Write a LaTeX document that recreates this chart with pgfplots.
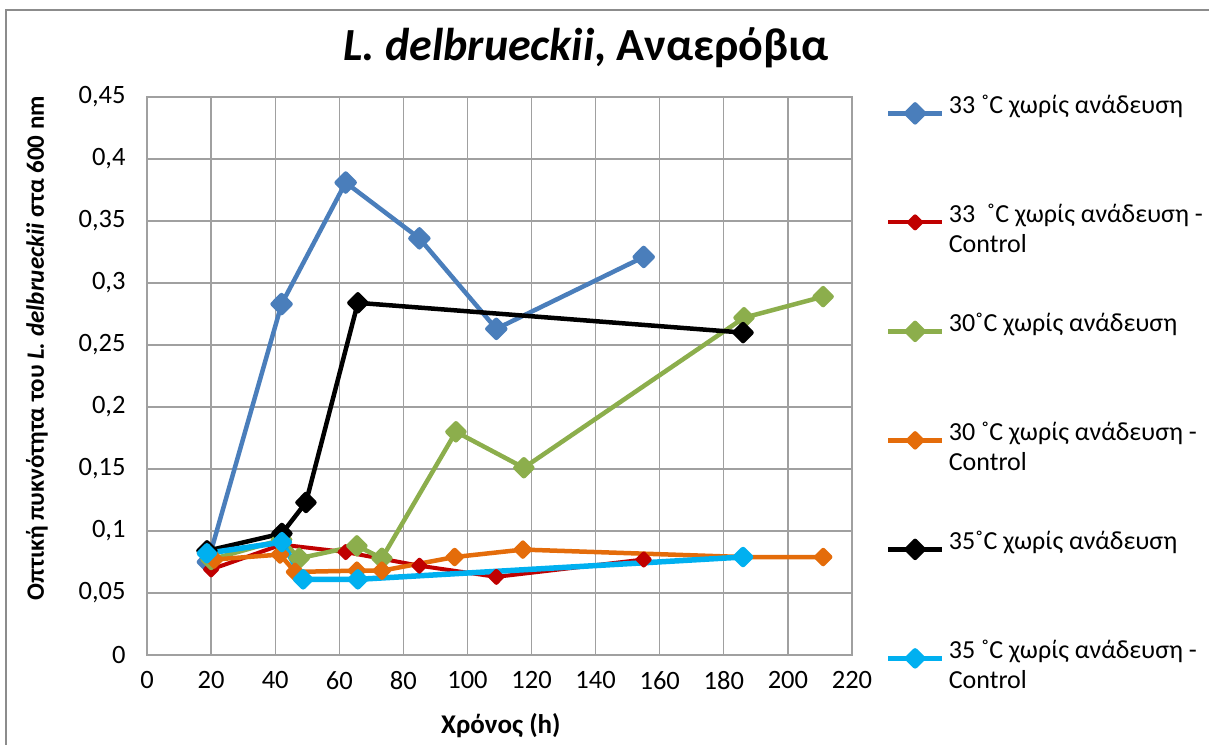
\documentclass[border=0pt]{standalone}
\usepackage{fontspec}
\setmainfont{Carlito}
\usepackage{pgfplots}
\pgfplotsset{compat=1.18}
\definecolor{cblue}{HTML}{4A7EBB}
\definecolor{cred}{HTML}{C00000}
\definecolor{cgreen}{HTML}{8CAE4C}
\definecolor{corange}{HTML}{E46C0A}
\definecolor{ccyan}{HTML}{00B0F0}
\definecolor{cgrid}{HTML}{A0A0A0}
\definecolor{cborder}{HTML}{8C8C8C}
\newcommand{\legtxt}[1]{\parbox[t][109bp][t]{300bp}{#1}}
\begin{document}
\begin{tikzpicture}[x=1bp,y=1bp]
\useasboundingbox (0,0) rectangle (1209,745);
\draw[cborder, line width=2.5bp] (6,0) -- (6,735) -- (1209,735);
\begin{axis}[
  at={(147bp,90bp)}, anchor=south west,
  scale only axis, width=705bp, height=558bp,
  xmin=0, xmax=220, ymin=0, ymax=0.45,
  xtick={0,20,...,220},
  ytick={0,0.05,0.1,0.15,0.2,0.25,0.3,0.35,0.4,0.45},
  scaled y ticks=false,
  /pgf/number format/.cd, use comma, fixed, 1000 sep={}, assume math mode=true,
  /pgfplots/.cd,
  ticklabel style={font=\fontsize{26.5bp}{30bp}\selectfont},
  yticklabel style={xshift=-18bp},
  xticklabel style={yshift=-13bp},
  grid=major,
  major grid style={cgrid, line width=1.3bp},
  axis line style={cgrid, line width=1.3bp},
  major tick length=0bp,
  tick pos=left,
  title={\textbf{\textit{L. delbrueckii}, Αναερόβια}},
  title style={font=\fontsize{46bp}{52bp}\selectfont, at={(rel axis cs:0.623,1.078)}, anchor=center},
  xlabel={\textbf{Χρόνος (h)}},
  every axis x label/.style={at={(rel axis cs:0.502,-0.127)}, anchor=center, font=\fontsize{27bp}{32bp}\selectfont},
  ylabel={\textbf{Οπτική πυκνότητα του \textit{L. delbrueckii} στα 600 nm}},
  every axis y label/.style={at={(rel axis cs:-0.156,0.55)}, rotate=90, anchor=center, font=\fontsize{25bp}{30bp}\selectfont},
  legend cell align=left,
  legend style={at={(rel axis cs:1.047,1.004)}, anchor=north west, draw=none, fill=none,
    font=\fontsize{26bp}{30bp}\selectfont, row sep=0bp, inner sep=0pt,
    nodes={inner sep=0pt, anchor=base west, text depth=}, column sep=4bp},
  legend image code/.code={\draw[mark repeat=2,mark phase=2] plot coordinates {(0bp,0bp) (27bp,0bp) (54bp,0bp)};},
  every axis plot/.append style={mark=diamond*, line join=round},
]
\addplot[cblue, line width=4.5bp, mark size=9bp, mark options={xscale=1.33}]
 coordinates {(19,0.075) (42,0.283) (62,0.381) (85,0.336) (109,0.263) (155,0.321)};
\addlegendentry{\legtxt{33 ˚C χωρίς ανάδευση}}
\addplot[cred, line width=4bp, mark size=6bp, mark options={xscale=1.33}]
 coordinates {(20,0.069) (42,0.089) (62,0.083) (85,0.072) (109,0.063) (155,0.077)};
\addlegendentry{\legtxt{33 \ ˚C χωρίς ανάδευση -\\Control}}
\addplot[cgreen, line width=4.5bp, mark size=8.5bp, mark options={xscale=1.33}]
 coordinates {(20,0.077) (42,0.093) (47.5,0.078) (65.5,0.088) (73.3,0.078) (96.4,0.180) (117.6,0.151) (186.3,0.272) (211,0.289)};
\addlegendentry{\legtxt{30˚C χωρίς ανάδευση}}
\addplot[corange, line width=4.5bp, mark size=7bp, mark options={xscale=1.33}]
 coordinates {(21,0.077) (41.5,0.081) (46.2,0.067) (65.5,0.068) (73.3,0.068) (96,0.079) (117.3,0.085) (186,0.079) (211,0.079)};
\addlegendentry{\legtxt{30 ˚C χωρίς ανάδευση -\\Control}}
\addplot[black, line width=4.5bp, mark size=8.5bp, mark options={xscale=1.33}]
 coordinates {(18.7,0.084) (42.1,0.098) (49.6,0.123) (65.8,0.284) (186,0.260)};
\addlegendentry{\legtxt{35˚C χωρίς ανάδευση}}
\addplot[ccyan, line width=5.5bp, mark size=7.5bp, mark options={xscale=1.33}]
 coordinates {(18.7,0.082) (42.1,0.091) (48.7,0.061) (65.8,0.061) (186,0.079)};
\addlegendentry{\legtxt{35 ˚C χωρίς ανάδευση -\\Control}}
\end{axis}
\end{tikzpicture}
\end{document}
